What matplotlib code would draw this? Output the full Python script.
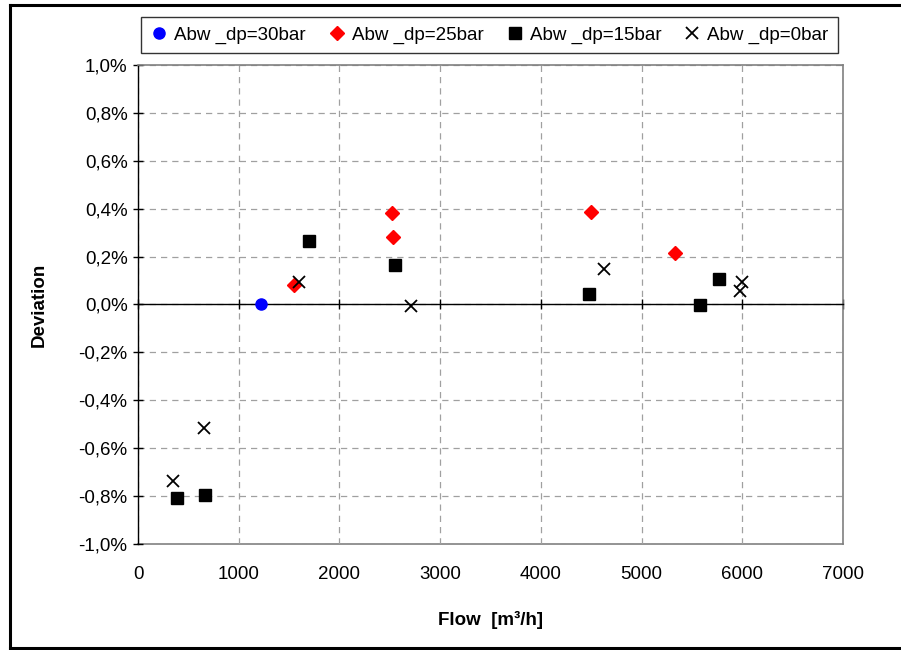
import matplotlib
matplotlib.use("Agg")
import matplotlib.pyplot as plt
from matplotlib.ticker import FuncFormatter, MultipleLocator
from matplotlib.lines import Line2D

plt.rcParams['font.family'] = ['Liberation Sans', 'DejaVu Sans']

# data (deviation in %)
x_30 = [1225]
y_30 = [0.0]
x_25 = [1545, 2525, 2530, 4495, 5330]
y_25 = [0.08, 0.383, 0.283, 0.388, 0.213]
x_15 = [386, 660, 1693, 2555, 4475, 5575, 5772]
y_15 = [-0.808, -0.796, 0.267, 0.163, 0.042, -0.004, 0.108]
x_0 = [346, 653, 1594, 2713, 4624, 5980, 6000]
y_0 = [-0.738, -0.517, 0.092, -0.008, 0.15, 0.058, 0.096]

labels = ["Abw _dp=30bar", "Abw _dp=25bar", "Abw _dp=15bar", "Abw _dp=0bar"]
x_ticks = [0, 1000, 2000, 3000, 4000, 5000, 6000, 7000]

fig = plt.figure(figsize=(9.01, 6.5), dpi=100)
ax = fig.add_axes([0.1532, 0.1631, 0.7825, 0.7369])

ax.plot(x_30, y_30, 'o', color='#0000ff', ms=8, ls='none', label=labels[0], zorder=5)
ax.plot(x_25, y_25, 'D', color='#ff0000', ms=7, ls='none', label=labels[1], zorder=5)
ax.plot(x_15, y_15, 's', color='black', ms=8, ls='none', label=labels[2], zorder=5)
ax.plot(x_0, y_0, 'x', color='black', ms=9, mew=1.3, ls='none', label=labels[3], zorder=6)

ax.set_xlim(0, 7000)
ax.set_ylim(-1.0, 1.0)
ax.set_xticks(x_ticks)
ax.yaxis.set_major_locator(MultipleLocator(0.2))
ax.yaxis.set_major_formatter(FuncFormatter(lambda v, p: ("%.1f%%" % v).replace('.', ',').replace('-0,0', '0,0')))

ax.grid(True, ls=(0, (5, 4)), color='#a0a0a0', lw=0.9)
ax.set_axisbelow(True)

# x axis crosses at zero, labels stay at the bottom
ax.spines['bottom'].set_position(('data', 0))
ax.spines['bottom'].set_color('black')
ax.spines['bottom'].set_linewidth(1.0)
ax.tick_params(axis='x', direction='inout', length=7, width=1.0, labelbottom=False)
sec = ax.secondary_xaxis(0.0)
sec.set_xticks(x_ticks)
sec.tick_params(length=0, pad=16, labelsize=13.5)
sec.spines['bottom'].set_color('#808080')
sec.spines['bottom'].set_linewidth(1.2)

ax.spines['left'].set_color('black')
ax.spines['left'].set_linewidth(1.0)
for s in ['top', 'right']:
    ax.spines[s].set_color('#808080')
    ax.spines[s].set_linewidth(1.2)
ax.tick_params(axis='y', direction='inout', length=7, width=1.0, labelsize=13.5, pad=4)

sec.set_xlabel("Flow  [m³/h]", fontsize=13.5, fontweight='bold', labelpad=20)
ax.set_ylabel("Deviation", fontsize=13.5, fontweight='bold', labelpad=22)

leg = fig.legend(loc='center', bbox_to_anchor=(0.543, 0.946), ncol=4, fontsize=13.5,
                 frameon=True, fancybox=False, edgecolor='black', handletextpad=0.3,
                 columnspacing=1.15, handlelength=1.0, borderpad=0.5)
leg.get_frame().set_linewidth(1.0)

# outer frame: left, top and bottom (right side runs off the picture)
for xs, ys in [([0.011, 0.011], [0.003, 0.992]), ([0.011, 1.0], [0.992, 0.992]), ([0.011, 1.0], [0.003, 0.003])]:
    fig.add_artist(Line2D(xs, ys, transform=fig.transFigure, color='black', lw=2.2))

fig.savefig("out.png", dpi=100)
